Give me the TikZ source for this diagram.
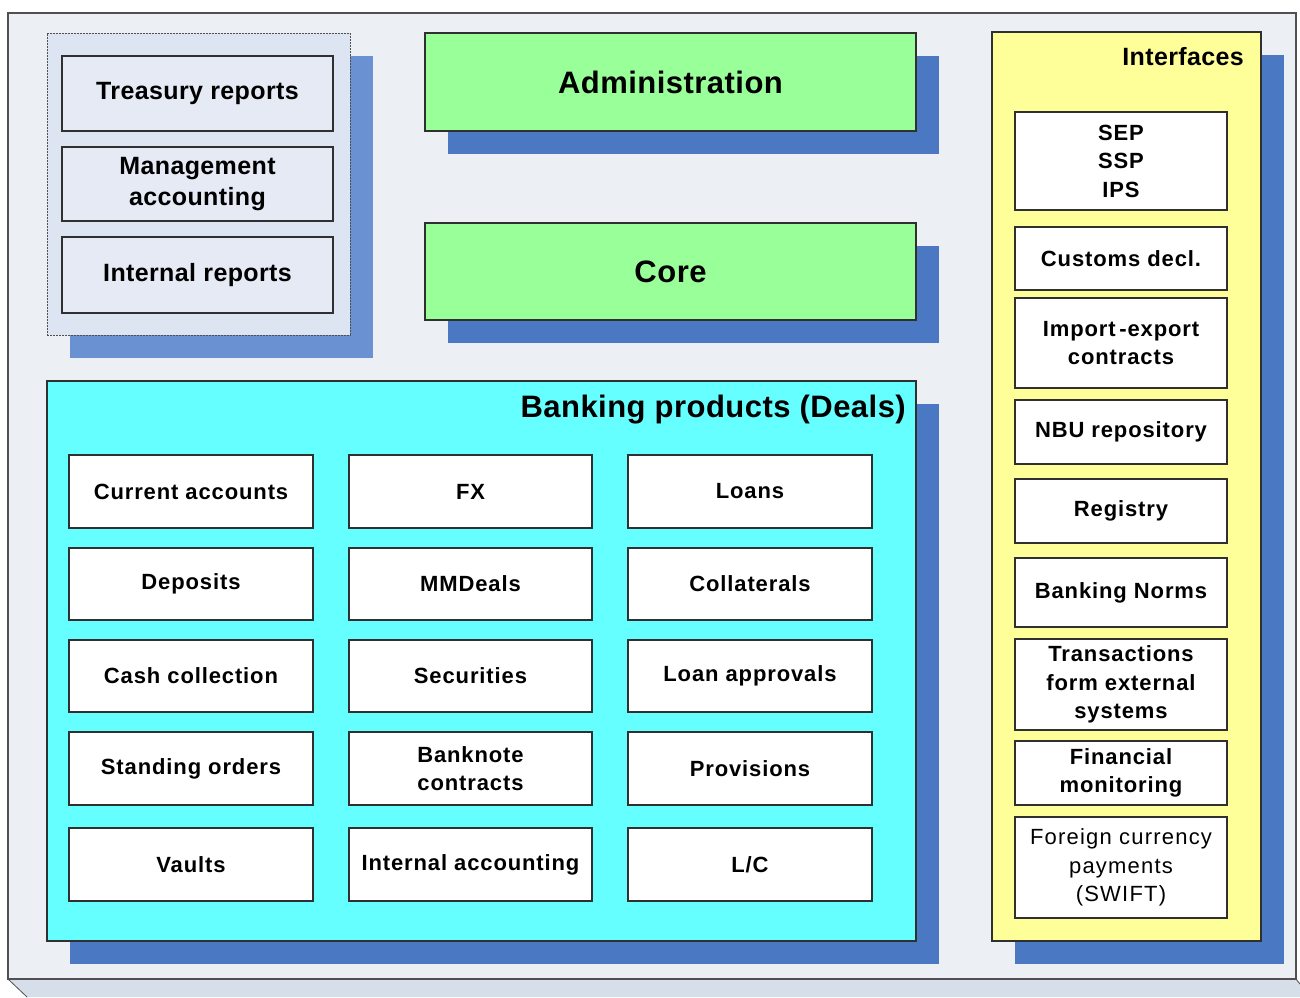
\documentclass[tikz,border=0pt]{standalone}
\usepackage{fontspec}
\setmainfont{Liberation Sans}
\newfontfamily\itemfont[LetterSpace=4]{Liberation Sans}
\newfontfamily\plainfont[LetterSpace=5.5]{Liberation Sans}
\newfontfamily\titlefont[LetterSpace=1.5]{Liberation Sans}
\usetikzlibrary{shadows}
\definecolor{bgc}{HTML}{ECEFF4}
\definecolor{bevelc}{HTML}{D6DEEA}
\definecolor{framec}{HTML}{505050}
\definecolor{shd}{HTML}{4A78C2}
\definecolor{shdlight}{HTML}{6A92D3}
\definecolor{greenc}{HTML}{99FF99}
\definecolor{cyanc}{HTML}{66FFFF}
\definecolor{yellowc}{HTML}{FFFF99}
\definecolor{panelc}{HTML}{DCE5F1}
\definecolor{repc}{HTML}{E5EAF5}
\definecolor{linec}{HTML}{303030}
\newcommand\pbox[7]{%
  \node[#6, minimum width={(#4-#2)*1pt}, minimum height={(#5-#3)*1pt}] (#1) at ({(#2+#4)/2},{(#3+#5)/2}) {#7};}
\tikzset{
  base/.style={draw=linec, line width=1.1pt, inner sep=0pt, outer sep=0pt, align=center, text=black},
  bigshadow/.style={drop shadow={shadow xshift=23pt, shadow yshift=-23pt, opacity=1, fill=shd}},
  lpanel/.style={base, draw=framec, line width=0.8pt, dash pattern=on 2pt off 1pt, fill=panelc,
     drop shadow={shadow xshift=23pt, shadow yshift=-23pt, opacity=1, fill=shdlight}},
  repbox/.style={base, fill=repc, font=\titlefont\fontsize{25}{31}\selectfont\bfseries},
  mainbox/.style={base, fill=greenc, bigshadow, font=\titlefont\fontsize{31}{36}\selectfont\bfseries},
  bankpanel/.style={base, fill=cyanc, bigshadow},
  ifpanel/.style={base, fill=yellowc, bigshadow},
  itembox/.style={base, fill=white, font=\itemfont\fontsize{22}{28.5}\selectfont\bfseries},
  plainbox/.style={base, fill=white, font=\plainfont\fontsize{22}{28.5}\selectfont},
  paneltitle/.style={inner sep=0pt, text=black}
}
\begin{document}
\begin{tikzpicture}[x=1pt,y=-1pt]
\useasboundingbox (0,0) rectangle (1300,997);
\fill[white] (0,0) rectangle (1300,997);
% frame
\fill[bevelc] (8,979) -- (1296,979) -- (1300,984) -- (1300,997) -- (27,997) -- cycle;
\draw[framec, line width=0.8pt] (8,979) -- (27,997);
\draw[framec, line width=0.8pt] (1296,979) -- (1300,984);
\fill[bgc] (8,13) rectangle (1296,979);
\draw[framec, line width=1.6pt] (8,979) -- (8,13) -- (1296,13) -- (1296,979) -- cycle;

% left reports panel
\pbox{reports}{47}{33}{350}{335}{lpanel}{}
\pbox{treasury}{62}{56}{333}{131}{repbox}{Treasury reports}
\pbox{mgmt}{62}{147}{333}{221}{repbox}{Management\\accounting}
\pbox{internalrep}{62}{237}{333}{313}{repbox}{Internal reports}

% administration and core
\pbox{adm}{425}{33}{916}{131}{mainbox}{Administration}
\pbox{core}{425}{223}{916}{320}{mainbox}{Core}

% banking products
\pbox{bank}{47}{381}{916}{941}{bankpanel}{}
\node[paneltitle, anchor=east, font=\titlefont\fontsize{31}{36}\selectfont\bfseries] (banktitle) at (906,410) {Banking products (Deals)};

\pbox{curacc}{69}{455}{313}{528}{itembox}{Current accounts}
\pbox{fx}{349}{455}{592}{528}{itembox}{FX}
\pbox{loans}{628}{455}{872}{528}{itembox}{Loans}
\pbox{deposits}{69}{548}{313}{620}{itembox}{Deposits}
\pbox{mmdeals}{349}{548}{592}{620}{itembox}{MMDeals}
\pbox{collat}{628}{548}{872}{620}{itembox}{Collaterals}
\pbox{cash}{69}{640}{313}{712}{itembox}{Cash collection}
\pbox{secur}{349}{640}{592}{712}{itembox}{Securities}
\pbox{loanappr}{628}{640}{872}{712}{itembox}{Loan approvals}
\pbox{standing}{69}{732}{313}{805}{itembox}{Standing orders}
\pbox{banknote}{349}{732}{592}{805}{itembox}{Banknote\\contracts}
\pbox{prov}{628}{732}{872}{805}{itembox}{Provisions}
\pbox{vaults}{69}{828}{313}{901}{itembox}{Vaults}
\pbox{intacc}{349}{828}{592}{901}{itembox}{Internal accounting}
\pbox{lc}{628}{828}{872}{901}{itembox}{L/C}

% interfaces
\pbox{interf}{992}{32}{1261}{941}{ifpanel}{}
\node[paneltitle, anchor=east, font=\titlefont\fontsize{25}{30}\selectfont\bfseries] (iftitle) at (1244,57) {Interfaces};

\pbox{sep}{1015}{112}{1227}{210}{itembox}{SEP\\SSP\\IPS}
\pbox{customs}{1015}{227}{1227}{290}{itembox}{Customs decl.}
\pbox{impexp}{1015}{298}{1227}{388}{itembox}{Import\,-export\\contracts}
\pbox{nbu}{1015}{400}{1227}{464}{itembox}{NBU repository}
\pbox{registry}{1015}{479}{1227}{543}{itembox}{Registry}
\pbox{norms}{1015}{558}{1227}{627}{itembox}{Banking Norms}
\pbox{trans}{1015}{639}{1227}{730}{itembox}{Transactions\\form external\\systems}
\pbox{finmon}{1015}{741}{1227}{805}{itembox}{Financial\\monitoring}
\pbox{swift}{1015}{817}{1227}{918}{plainbox}{Foreign currency\\payments\\(SWIFT)}
\end{tikzpicture}
\end{document}
